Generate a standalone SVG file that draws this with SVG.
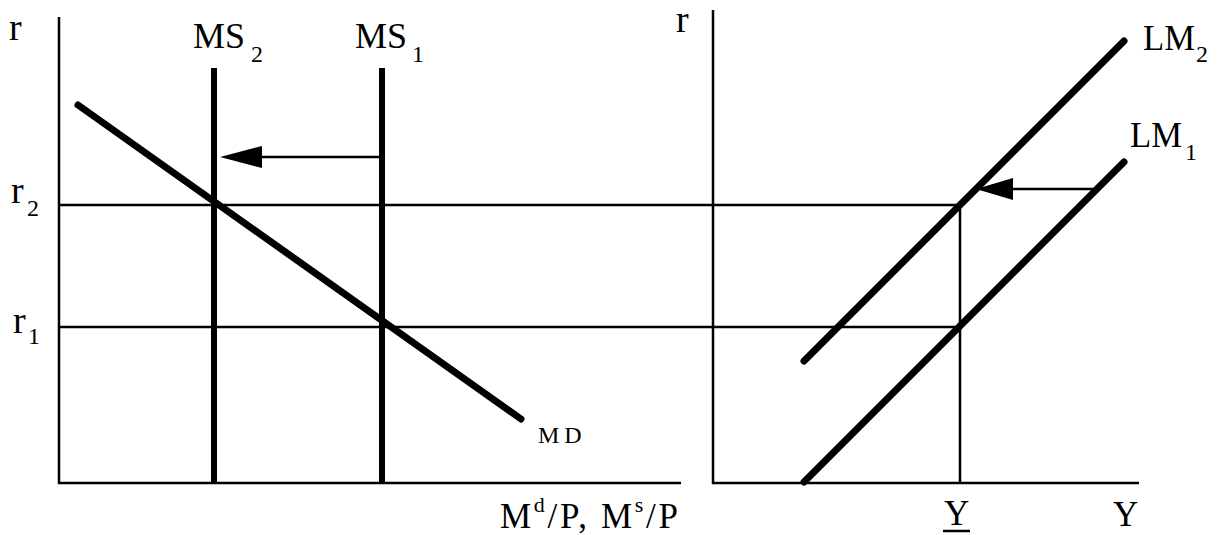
<svg xmlns="http://www.w3.org/2000/svg" width="1217" height="535" viewBox="0 0 1217 535">
<style>
.thin{stroke:#000;stroke-width:2.5;fill:none}
.thick{stroke:#000;stroke-width:7;fill:none;stroke-linecap:round}
.ms{stroke:#000;stroke-width:6;fill:none}
text{font-family:"Liberation Serif","Times New Roman",serif;fill:#000}
.big{font-size:35px}
.r{font-size:38px}
.sub{font-size:24px}
</style>
<rect width="1217" height="535" fill="#fff"/>
<g id="axes">
<line class="thin" x1="59" y1="17" x2="59" y2="484"/>
<line class="thin" x1="58" y1="483" x2="681" y2="483"/>
<line class="thin" x1="713" y1="10" x2="713" y2="484"/>
<line class="thin" x1="712" y1="483" x2="1139" y2="483"/>
</g>
<g id="guides">
<line class="thin" x1="59" y1="205" x2="960" y2="205"/>
<line class="thin" x1="59" y1="327" x2="960" y2="327"/>
<line class="thin" x1="960" y1="205" x2="960" y2="483"/>
</g>
<g id="MS2"><line class="ms" x1="214" y1="68" x2="214" y2="483"/></g>
<g id="MS1"><line class="ms" x1="382" y1="68" x2="382" y2="483"/></g>
<g id="MD"><line class="thick" x1="78" y1="105" x2="521" y2="419"/></g>
<g id="LM2"><line class="thick" x1="804" y1="361" x2="1124" y2="41"/></g>
<g id="LM1"><line class="thick" x1="804" y1="482" x2="1124" y2="162"/></g>
<g id="connectors">
<line class="thin" x1="380" y1="157" x2="262" y2="157"/>
<path d="M220,157 L262,146 L262,168 Z" fill="#000"/>
<line class="thin" x1="1094" y1="189" x2="1012" y2="189"/>
<path d="M976,189 L1013,178 L1013,200 Z" fill="#000"/>
</g>
<g id="labels">
<text class="r" x="9" y="40">r</text>
<text class="r" x="11" y="203">r</text><text class="sub" x="27" y="216">2</text>
<text class="r" x="13" y="333">r</text><text class="sub" x="28" y="344">1</text>
<text class="big" x="193" y="48" textLength="52" lengthAdjust="spacingAndGlyphs">MS</text><text class="sub" x="251" y="62">2</text>
<text class="big" x="355" y="48" textLength="52" lengthAdjust="spacingAndGlyphs">MS</text><text class="sub" x="412" y="62">1</text>
<text x="538" y="443" style="font-size:24px;letter-spacing:5px">MD</text>
<text class="big" x="500" y="528" textLength="178" lengthAdjust="spacing">M<tspan style="font-size:22px" dy="-16">d</tspan><tspan dy="16">/P, M</tspan><tspan style="font-size:22px" dy="-16">s</tspan><tspan dy="16">/P</tspan></text>
<text class="r" x="676" y="32">r</text>
<text class="big" x="1143" y="50" textLength="52" lengthAdjust="spacingAndGlyphs">LM</text><text class="sub" x="1196" y="62">2</text>
<text class="big" x="1130" y="147" textLength="52" lengthAdjust="spacingAndGlyphs">LM</text><text class="sub" x="1185" y="160">1</text>
<text class="big" x="944" y="525">Y</text>
<line class="thin" x1="943" y1="531" x2="970" y2="531"/>
<text class="big" x="1113" y="526">Y</text>
</g>
</svg>
